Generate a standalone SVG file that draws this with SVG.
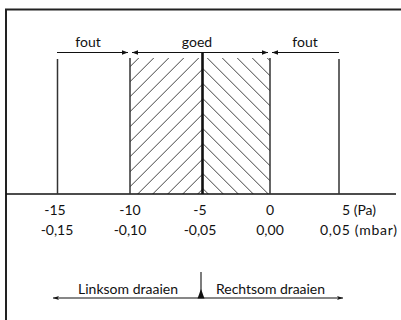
<svg xmlns="http://www.w3.org/2000/svg" width="401" height="320" viewBox="0 0 401 320">
  <style>
    text { font-family: Lato, "Open Sans", "DejaVu Sans", sans-serif; font-size: 14px; fill: #111; }
    .mid { text-anchor: middle; }
    .frame { stroke: #222; stroke-width: 2; fill: none; }
    .vl { stroke: #333; stroke-width: 1.5; fill: none; }
    .ln { stroke: #111; stroke-width: 1.1; fill: none; }
    .hatch { stroke: #111; stroke-width: 0.8; }
  </style>
  <defs>
    <pattern id="hatchL" patternUnits="userSpaceOnUse" x="1.7" y="0" width="15" height="15">
      <path class="hatch" d="M-1,1 L1,-1 M0,15 L15,0 M14,16 L16,14"/>
    </pattern>
    <pattern id="hatchR" patternUnits="userSpaceOnUse" x="0" y="0.7" width="15" height="15">
      <path class="hatch" d="M0,0 L15,15 M-1,14 L1,16 M14,-1 L16,1"/>
    </pattern>
    <marker id="ah" viewBox="0 0 6 6" refX="6" refY="3" markerWidth="6" markerHeight="6" markerUnits="userSpaceOnUse" orient="auto-start-reverse">
      <path d="M0,0.8 L6,3 L0,5.2 z" fill="#111"/>
    </marker>
    <marker id="ahs" viewBox="0 0 6 6" refX="6" refY="3" markerWidth="6" markerHeight="6" markerUnits="userSpaceOnUse" orient="auto-start-reverse">
      <path d="M0,1 L6,3 L0,5 L1.5,3 z" fill="#111"/>
    </marker>
  </defs>

  <g id="frame">
    <path class="frame" d="M6,321 L6,9.5 L402,9.5"/>
    <line x1="6" y1="194" x2="396" y2="194" stroke="#111" stroke-width="1.6"/>
  </g>

  <g id="zone-goed">
    <rect x="130" y="58" width="73" height="136" fill="url(#hatchL)"/>
    <rect x="203" y="58" width="67" height="136" fill="url(#hatchR)"/>
  </g>

  <g id="scale-lines">
    <line class="vl" x1="57.5" y1="59" x2="57.5" y2="194"/>
    <line class="vl" x1="130" y1="58" x2="130" y2="194"/>
    <line x1="202.5" y1="52" x2="202.5" y2="194" stroke="#111" stroke-width="2.6"/>
    <line class="vl" x1="270" y1="58" x2="270" y2="194"/>
    <line class="vl" x1="339" y1="59" x2="339" y2="194"/>
  </g>

  <g id="connectors">
    <line class="ln" x1="57" y1="52.5" x2="128" y2="52.5" marker-end="url(#ah)"/>
    <line class="ln" x1="132" y1="52.5" x2="268" y2="52.5" marker-start="url(#ah)" marker-end="url(#ah)"/>
    <line class="ln" x1="272" y1="52.5" x2="339" y2="52.5" marker-start="url(#ah)"/>
    <line class="ln" x1="53" y1="298" x2="343" y2="298" marker-start="url(#ahs)" marker-end="url(#ahs)"/>
    <line class="ln" x1="201" y1="272" x2="201" y2="292"/>
    <path d="M197.5,298.5 L201,289 L204.5,298.5 z" fill="#111"/>
  </g>

  <g id="labels-top">
    <text class="mid" x="88" y="47">fout</text>
    <text class="mid" x="197" y="47">goed</text>
    <text class="mid" x="305" y="47">fout</text>
  </g>

  <g id="labels-pa">
    <text class="mid" x="55" y="215">-15</text>
    <text class="mid" x="130" y="215">-10</text>
    <text class="mid" x="200" y="215">-5</text>
    <text class="mid" x="270" y="215">0</text>
    <text x="342" y="215">5 (Pa)</text>
  </g>

  <g id="labels-mbar">
    <text class="mid" x="57" y="235">-0,15</text>
    <text class="mid" x="130" y="235">-0,10</text>
    <text class="mid" x="200" y="235">-0,05</text>
    <text class="mid" x="270" y="235">0,00</text>
    <text x="320" y="235" textLength="77" lengthAdjust="spacing">0,05 (mbar)</text>
  </g>

  <g id="labels-bottom">
    <text x="78" y="294" textLength="100" lengthAdjust="spacing">Linksom draaien</text>
    <text x="216" y="294" textLength="109" lengthAdjust="spacing">Rechtsom draaien</text>
  </g>
</svg>
